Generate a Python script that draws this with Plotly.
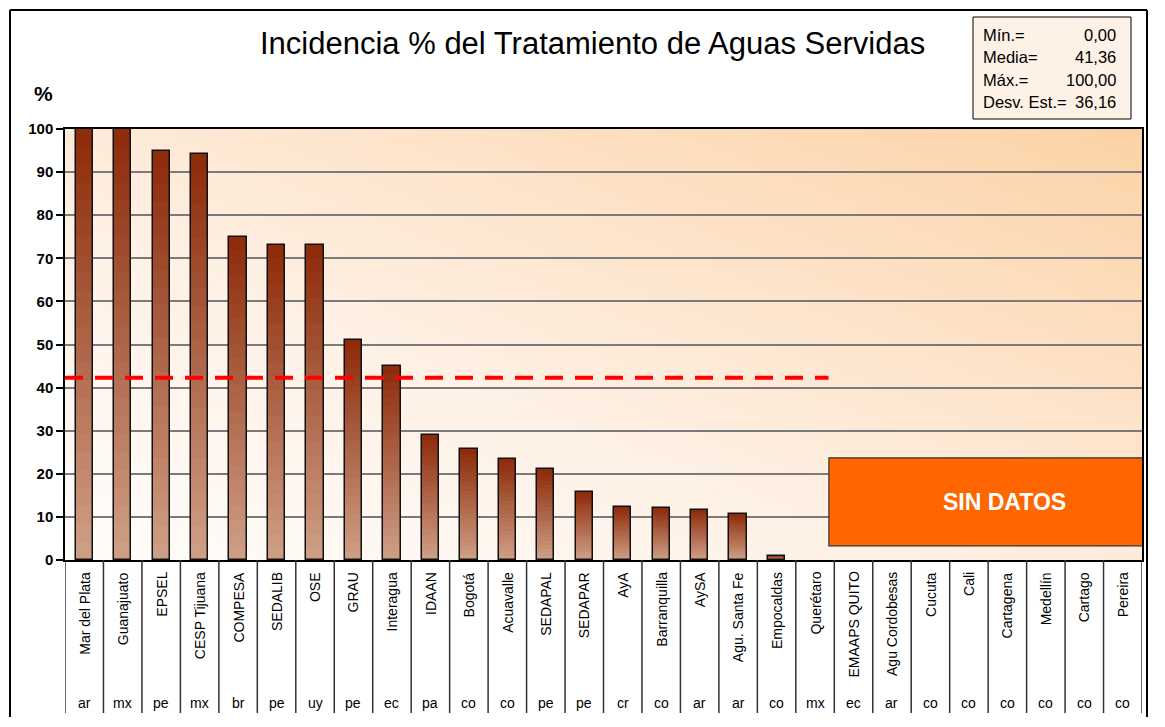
import base64
import plotly.graph_objects as go

# ---------------- data ----------------
utilities = ["Mar del Plata", "Guanajuato", "EPSEL", "CESP Tijuana", "COMPESA", "SEDALIB", "OSE",
             "GRAU", "Interagua", "IDAAN", "Bogotá", "Acuavalle", "SEDAPAL", "SEDAPAR", "AyA",
             "Barranquilla", "AySA", "Agu. Santa Fe", "Empocaldas", "Querétaro", "EMAAPS QUITO",
             "Agu Cordobesas", "Cucuta", "Cali", "Cartagena", "Medellín", "Cartago", "Pereira"]
countries = ["ar", "mx", "pe", "mx", "br", "pe", "uy", "pe", "ec", "pa", "co", "co", "pe", "pe", "cr",
             "co", "ar", "ar", "co", "mx", "ec", "ar", "co", "co", "co", "co", "co", "co"]
values = [100, 100, 95.0, 94.3, 75.0, 73.0, 73.0, 51.0, 45.0, 29.0, 25.7, 23.4, 21.0, 15.7, 12.3,
          12.0, 11.7, 10.7, 1.0, None, None, None, None, None, None, None, None, None]
mean_line_value = 42.3
mean_line_span = [-0.5, 19.35]
stats_labels = ["Mín.=", "Media=", "Máx.=", "Desv. Est.="]
stats_values = ["0,00", "41,36", "100,00", "36,16"]
no_data_label = "SIN DATOS"
no_data_x = [19.36, 28.5]
no_data_y = [3.3, 23.7]
title_text = "Incidencia % del Tratamiento de Aguas Servidas"
y_ticks = list(range(0, 101, 10))

# ---------------- layout geometry ----------------
# the page body adds an 8px margin, so the figure is drawn smaller and shifted
OFF = 8
W, H = 1165 - 2 * OFF, 727 - 2 * OFF - 2
ML, MT = 65 - OFF, 129 - OFF
MR = W - ML - (1142 - 65)
BOTTOM = 560  # reference pixel of y=0
MB = H - (BOTTOM - OFF)
PW, PH = W - ML - MR, H - MT - MB


def px_x(p):
    return (p - 65) / PW


def px_y(p):
    return (BOTTOM - p) / PH


n = len(utilities)
xs = list(range(n))
BAR_W = 0.45
narrow = "Liberation Sans Narrow, Arial Narrow, Liberation Sans, Arial, sans-serif"
arial = "Liberation Sans, Arial, sans-serif"

fig = go.Figure()

# gradient bars: overlaid stacks of progressively shorter/lighter bars
top_rgb = (142, 44, 12)
bot_rgb = (206, 158, 132)
N = 24
for k in range(N):
    t = k / (N - 1)
    c = tuple(round(top_rgb[i] + (bot_rgb[i] - top_rgb[i]) * t) for i in range(3))
    f = 1 - k / N
    fig.add_trace(go.Bar(
        x=xs, y=[None if v is None else v * f for v in values],
        width=BAR_W, marker=dict(color="rgb(%d,%d,%d)" % c, line=dict(width=0)),
        hoverinfo="skip", showlegend=False))
# outline
fig.add_trace(go.Bar(
    x=xs, y=values, width=BAR_W,
    marker=dict(color="rgba(0,0,0,0)", line=dict(color="#111111", width=1.5)),
    showlegend=False, hovertemplate="%{y}<extra></extra>"))

# mean dashed line
fig.add_trace(go.Scatter(
    x=mean_line_span, y=[mean_line_value, mean_line_value], mode="lines",
    line=dict(color="#FF0000", width=4, dash="18px,12px"),
    hoverinfo="skip", showlegend=False))

# background gradient via svg image
svg = ('<svg xmlns="http://www.w3.org/2000/svg" width="%d" height="%d" viewBox="0 0 %d %d" '
       'preserveAspectRatio="none"><defs><linearGradient id="g" x1="0" y1="1" x2="1" y2="0">'
       '<stop offset="0" stop-color="#FFFDFB"/><stop offset="0.4" stop-color="#FEF0E4"/>'
       '<stop offset="1" stop-color="#FCD2A5"/></linearGradient></defs>'
       '<rect width="%d" height="%d" fill="url(#g)"/></svg>') % (PW, PH, PW, PH, PW, PH)
uri = "data:image/svg+xml;base64," + base64.b64encode(svg.encode()).decode()

shapes = []
annotations = []

# dividers in label area
for i in range(n + 1):
    shapes.append(dict(type="line", xref="x", yref="paper", x0=i - 0.5, x1=i - 0.5,
                       y0=0, y1=px_y(713), line=dict(color="#333333", width=1.5), layer="above"))

# category labels
for i, (u, c) in enumerate(zip(utilities, countries)):
    annotations.append(dict(x=i, y=px_y(570), xref="x", yref="paper", text=u, textangle=-90,
                            showarrow=False, xanchor="center", yanchor="top",
                            font=dict(family=narrow, size=14, color="#000000")))
    annotations.append(dict(x=i, y=px_y(703), xref="x", yref="paper", text=c,
                            showarrow=False, xanchor="center", yanchor="middle",
                            font=dict(family=narrow, size=14, color="#000000")))

# no data box
shapes.append(dict(type="rect", xref="x", yref="y", x0=no_data_x[0], x1=no_data_x[1],
                   y0=no_data_y[0], y1=no_data_y[1], fillcolor="#FF6600",
                   line=dict(color="#333333", width=1.2), layer="above"))
annotations.append(dict(x=sum(no_data_x) / 2, y=sum(no_data_y) / 2, xref="x", yref="y",
                        text="<b>%s</b>" % no_data_label, showarrow=False,
                        font=dict(family=arial, size=23, color="#FFFFFF")))

# outer frame (left, top, right)
fl, fr, ft, fb = px_x(10), px_x(1147), px_y(10), px_y(725)
for (x0, y0, x1, y1) in [(fl, fb, fl, ft), (fl, ft, fr, ft), (fr, ft, fr, fb)]:
    shapes.append(dict(type="line", xref="paper", yref="paper", x0=x0, y0=y0, x1=x1, y1=y1,
                       line=dict(color="#000000", width=2)))

# stats box
shapes.append(dict(type="rect", xref="paper", yref="paper", x0=px_x(973), x1=px_x(1131),
                   y0=px_y(119), y1=px_y(17), fillcolor="#FEF1E6",
                   line=dict(color="#000000", width=1)))
for j, (lab, val) in enumerate(zip(stats_labels, stats_values)):
    yy = px_y(35 + j * 22.3)
    annotations.append(dict(x=px_x(981), y=yy, xref="paper", yref="paper", text=lab,
                            showarrow=False, xanchor="left", yanchor="middle",
                            font=dict(family=arial, size=16.5, color="#000000")))
    annotations.append(dict(x=px_x(1118), y=yy, xref="paper", yref="paper", text=val,
                            showarrow=False, xanchor="right", yanchor="middle",
                            font=dict(family=arial, size=16.5, color="#000000")))

# title and % label
annotations.append(dict(x=px_x(592), y=px_y(43), xref="paper", yref="paper", text=title_text,
                        showarrow=False, xanchor="center", yanchor="middle",
                        font=dict(family=arial, size=31, color="#000000")))
annotations.append(dict(x=px_x(43), y=px_y(94), xref="paper", yref="paper", text="<b>%</b>",
                        showarrow=False, xanchor="center", yanchor="middle",
                        font=dict(family=arial, size=21, color="#000000")))

fig.update_layout(
    width=W, height=H,
    margin=dict(l=ML, r=MR, t=MT, b=MB, pad=0),
    paper_bgcolor="#FFFFFF",
    plot_bgcolor="rgba(0,0,0,0)",
    barmode="overlay",
    bargap=0,
    showlegend=False,
    images=[dict(source=uri, xref="paper", yref="paper", x=0, y=1, sizex=1, sizey=1,
                 sizing="stretch", layer="below", xanchor="left", yanchor="top")],
    shapes=shapes,
    annotations=annotations,
    xaxis=dict(range=[-0.5, n - 0.5], showticklabels=False, showgrid=False, zeroline=False,
               showline=True, linecolor="#000000", linewidth=1.5, mirror=True, ticks=""),
    yaxis=dict(range=[0, 100], tickvals=y_ticks, showgrid=True, gridcolor="#7A7A7A",
               gridwidth=1.5, zeroline=False, showline=True, linecolor="#000000",
               linewidth=1.5, mirror=True, ticks="outside", ticklen=7, tickcolor="#000000",
               tickwidth=1.5,
               tickfont=dict(family=arial, size=15, color="#000000", weight="bold")),
)

fig.write_html("out.html")
